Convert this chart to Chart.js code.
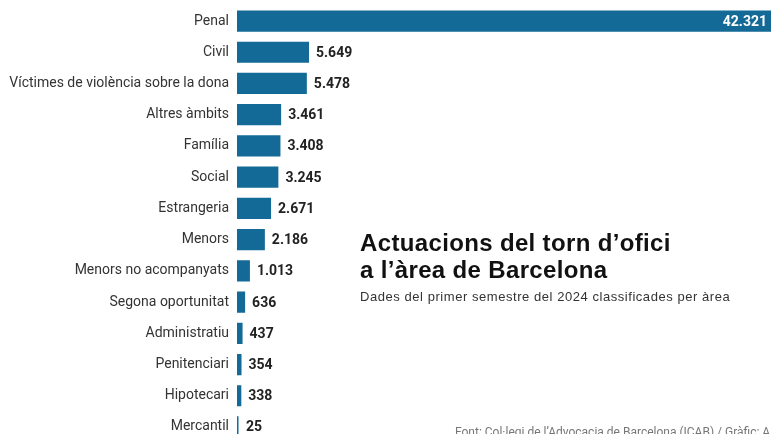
<!DOCTYPE html>
<html>
<head>
<meta charset="utf-8">
<script src="https://cdn.jsdelivr.net/npm/chart.js@4"></script>
<style>
  html, body { margin: 0; padding: 0; background: #fff; overflow: hidden; }
  body { width: 771px; height: 434px; position: relative; font-family: Roboto, "Noto Sans", sans-serif; }
  #wrap { position: absolute; left: 0; top: -11px; width: 771px; height: 470px; }
  .title { position: absolute; left: 360px; top: 229px; font-family: "Liberation Sans", Arial, sans-serif; font-size: 24px; font-weight: 700; line-height: 27px; letter-spacing: 0.35px; color: #111; }
  .sub { position: absolute; left: 360px; top: 289px; font-family: "Liberation Sans", Arial, sans-serif; font-size: 13px; letter-spacing: 0.55px; color: #333; }
  .font { position: absolute; left: 455px; top: 425px; font-size: 12px; color: #777; white-space: nowrap; }
</style>
</head>
<body>
<div id="wrap"><canvas id="chart" width="771" height="470"></canvas></div>
<div class="title">Actuacions del torn d’ofici<br>a l’àrea de Barcelona</div>
<div class="sub">Dades del primer semestre del 2024 classificades per àrea</div>
<div class="font">Font: Col·legi de l’Advocacia de Barcelona (ICAB) / Gràfic: ARA</div>
<script>
// dades
const categories = ['Penal', 'Civil', 'Víctimes de violència sobre la dona', 'Altres àmbits', 'Família',
    'Social', 'Estrangeria', 'Menors', 'Menors no acompanyats', 'Segona oportunitat',
    'Administratiu', 'Penitenciari', 'Hipotecari', 'Mercantil'];
const actuacions = [42321, 5649, 5478, 3461, 3408, 3245, 2671, 2186, 1013, 636, 437, 354, 338, 25];

function formatNum(n) {
    return String(n).replace(/\B(?=(\d{3})+(?!\d))/g, '.');
}

// etiquetes de valor
const valueLabels = {
    id: 'valueLabels',
    afterDatasetsDraw(chart) {
        const ctx = chart.ctx;
        const meta = chart.getDatasetMeta(0);
        ctx.save();
        ctx.font = 'bold 14px Roboto, sans-serif';
        ctx.textBaseline = 'middle';
        meta.data.forEach(function(bar, i) {
            const txt = formatNum(actuacions[i]);
            if (bar.x > chart.chartArea.right - 60) {
                ctx.fillStyle = '#fff';
                ctx.textAlign = 'right';
                ctx.fillText(txt, chart.chartArea.right - 4, bar.y + 1);
            } else {
                ctx.fillStyle = '#222';
                ctx.textAlign = 'left';
                ctx.fillText(txt, Math.max(bar.x, bar.base + 2) + 7, bar.y + 1);
            }
        });
        ctx.restore();
    }
};

new Chart(document.getElementById('chart'), {
    type: 'bar',
    data: {
        labels: categories,
        datasets: [{
            data: actuacions,
            backgroundColor: '#136a96',
            minBarLength: 1.5,
            categoryPercentage: 1,
            barPercentage: 0.68
        }]
    },
    options: {
        indexAxis: 'y',
        responsive: false,
        animation: false,
        layout: { padding: { top: 4, right: 0, bottom: 0, left: 0 } },
        plugins: { legend: { display: false }, tooltip: { enabled: false } },
        scales: {
            x: { display: false, min: 0, max: 41880 },
            y: {
                grid: { display: false, drawTicks: false },
                border: { display: false },
                afterFit: function(axis) { axis.width = 237; },
                ticks: {
                    color: '#333',
                    padding: 8,
                    font: { family: 'Roboto, sans-serif', size: 14 }
                }
            }
        }
    },
    plugins: [valueLabels]
});
</script>
</body>
</html>
